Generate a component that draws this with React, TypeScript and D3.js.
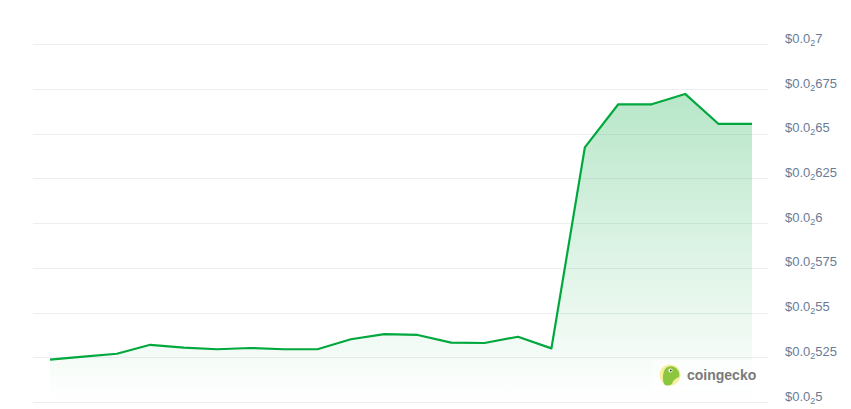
import { useEffect, useRef } from "react";
import * as d3 from "d3";

const width = 851;
const height = 409;

// price points, evenly spaced in time
const prices = [
  0.005237, 0.005254, 0.00527, 0.00532, 0.005304, 0.005295, 0.005302, 0.005295,
  0.005295, 0.005351, 0.00538, 0.005375, 0.005332, 0.00533, 0.005365, 0.0053,
  0.006424, 0.006665, 0.006665, 0.006723, 0.006555, 0.006555,
];

const tickValues = [0.005, 0.00525, 0.0055, 0.00575, 0.006, 0.00625, 0.0065, 0.00675, 0.007];
// subscript notation: $0.0 + zero count + significant digits
const tickDigits = ["5", "525", "55", "575", "6", "625", "65", "675", "7"];

const colors = {
  LINE: "#00a83e",
  GRID: "#eceff1",
  LABEL: "#687c98",
};

export default function App() {
  const ref = useRef<SVGSVGElement | null>(null);

  useEffect(() => {
    const svg = d3.select(ref.current);
    svg.selectAll("*").remove();

    const x = d3.scaleLinear().domain([0, prices.length - 1]).range([50, 752]);
    const y = d3.scaleLinear().domain([0.005, 0.007]).range([402, 44.4]);

    const defs = svg.append("defs");
    const grad = defs
      .append("linearGradient")
      .attr("id", "areaFill")
      .attr("gradientUnits", "userSpaceOnUse")
      .attr("x1", 0)
      .attr("x2", 0)
      .attr("y1", y(d3.max(prices) as number))
      .attr("y2", y(0.005));
    grad.append("stop").attr("offset", "0%").attr("stop-color", colors.LINE).attr("stop-opacity", 0.28);
    grad.append("stop").attr("offset", "100%").attr("stop-color", colors.LINE).attr("stop-opacity", 0.0);

    // grid lines
    svg
      .append("g")
      .selectAll("line")
      .data(tickValues)
      .enter()
      .append("line")
      .attr("x1", 33)
      .attr("x2", 768)
      .attr("y1", (d) => Math.round(y(d)) + 0.5)
      .attr("y2", (d) => Math.round(y(d)) + 0.5)
      .style("stroke", colors.GRID)
      .style("stroke-width", 1);

    // area
    const area = d3
      .area<number>()
      .x((_, i) => x(i))
      .y0(y(0.005))
      .y1((d) => y(d));
    svg.append("path").datum(prices).attr("d", area).style("fill", "url(#areaFill)");

    // line
    const line = d3
      .line<number>()
      .x((_, i) => x(i))
      .y((d) => y(d));
    svg
      .append("path")
      .datum(prices)
      .attr("d", line)
      .style("fill", "none")
      .style("stroke", colors.LINE)
      .style("stroke-width", 2.2)
      .style("stroke-linejoin", "round");

    // y labels
    const labels = svg
      .append("g")
      .selectAll("text")
      .data(tickValues)
      .enter()
      .append("text")
      .attr("x", 785)
      .attr("y", (d) => y(d) - 1.5)
      .style("font-family", "'Liberation Sans', Arial, sans-serif")
      .style("font-size", "13px")
      .style("fill", colors.LABEL);
    labels.append("tspan").text("$0.0");
    labels.append("tspan").attr("dy", 3).style("font-size", "9px").text("2");
    labels.append("tspan").attr("dy", -3).text((_, i) => tickDigits[i]);

    // watermark
    const logo = svg.append("g");
    logo.append("rect").attr("x", 652).attr("y", 360).attr("width", 112).attr("height", 30).style("fill", "white").style("opacity", 0.55);
    logo.append("circle").attr("cx", 670).attr("cy", 375).attr("r", 10.5).style("fill", "#f7ef9e");
    logo
      .append("path")
      .attr("d", "M664,384 C662,378 663,371 666,368 C669,365 675,366 677,369 C679,371 680,374 679,377 C676,378 673,380 672,384 C669,386 666,386 664,384 Z")
      .style("fill", "#8cc63f");
    logo.append("circle").attr("cx", 670.5).attr("cy", 370.5).attr("r", 2).style("fill", "white");
    logo.append("circle").attr("cx", 670.8).attr("cy", 370.5).attr("r", 1).style("fill", "#2f3a2a");
    logo
      .append("text")
      .attr("x", 687)
      .attr("y", 380)
      .style("font-family", "'Liberation Sans', Arial, sans-serif")
      .style("font-size", "14px")
      .style("font-weight", "bold")
      .style("fill", "#7a7a7a")
      .text("coingecko");
  }, []);

  return (
    <svg
      ref={ref}
      width={width}
      height={height}
      style={{ position: "absolute", left: 0, top: 0, background: "white" }}
    />
  );
}
